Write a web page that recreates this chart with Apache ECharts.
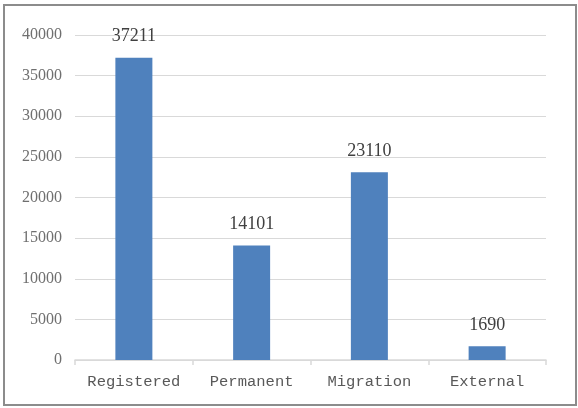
<!DOCTYPE html>
<html>
<head>
<meta charset="utf-8">
<script src="https://cdn.jsdelivr.net/npm/echarts@6/dist/echarts.min.js"></script>
<style>
  html, body { margin: 0; padding: 0; background: #fff; }
  #main { width: 578px; height: 408px; }
</style>
</head>
<body>
<div id="main"></div>
<script>
// categories and values
var categories = ['Registered', 'Permanent', 'Migration', 'External'];
var counts = [37211, 14101, 23110, 1690];

var chart = echarts.init(document.getElementById('main'));

var option = {
  animation: false,
  graphic: [
    {
      type: 'rect',
      shape: { x: 4, y: 5, width: 572, height: 400 },
      style: { fill: 'none', stroke: '#8c8c8c', lineWidth: 2 }
    }
  ],
  grid: { left: 75, right: 32, top: 35, bottom: 48 },
  xAxis: {
    type: 'category',
    data: categories,
    axisLine: { lineStyle: { color: '#d9d9d9', width: 1.5 } },
    axisTick: { show: true, length: 5, lineStyle: { color: '#d9d9d9', width: 1.5 } },
    axisLabel: {
      interval: 0,
      color: '#595959',
      fontFamily: 'Liberation Mono',
      fontSize: 15.5,
      margin: 14
    }
  },
  yAxis: {
    type: 'value',
    min: 0,
    max: 40000,
    interval: 5000,
    axisLine: { show: false },
    axisTick: { show: false },
    splitLine: { lineStyle: { color: '#d9d9d9', width: 1 } },
    axisLabel: {
      color: '#6f6f6f',
      fontFamily: 'Liberation Serif',
      fontSize: 16,
      margin: 13,
      formatter: function (v) { return String(v); }
    }
  },
  series: [
    {
      type: 'bar',
      data: counts,
      barWidth: 37,
      itemStyle: { color: '#4f81bd' },
      label: {
        show: true,
        position: 'top',
        distance: 12,
        color: '#404040',
        fontFamily: 'Liberation Serif',
        fontSize: 18
      }
    }
  ]
};

chart.setOption(option);
</script>
</body>
</html>
